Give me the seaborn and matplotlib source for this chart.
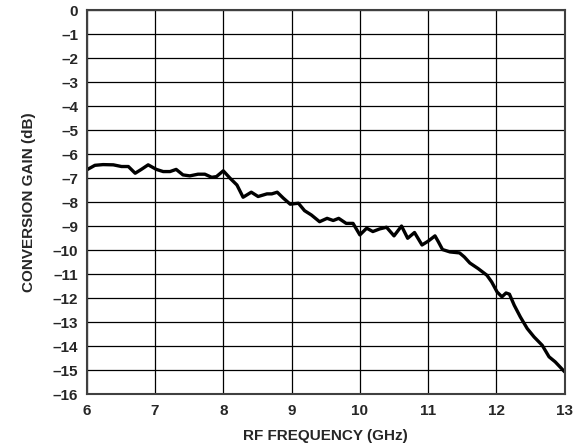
import numpy as np
import pandas as pd
import matplotlib
matplotlib.use("Agg")
import matplotlib.pyplot as plt
import seaborn as sns

# RF frequency (GHz) and conversion gain (dB)
freq_ghz = [6.00, 6.12, 6.24, 6.39, 6.51, 6.61, 6.71, 6.80, 6.90, 7.02,
            7.12, 7.22, 7.31, 7.41, 7.51, 7.63, 7.73, 7.83, 7.90, 8.00,
            8.10, 8.20, 8.29, 8.41, 8.51, 8.64, 8.71, 8.79, 8.88, 8.98,
            9.10, 9.19, 9.29, 9.41, 9.52, 9.61, 9.69, 9.80, 9.90, 10.00,
            10.10, 10.19, 10.29, 10.39, 10.50, 10.61, 10.70, 10.80, 10.91, 11.00,
            11.10, 11.15, 11.21, 11.32, 11.46, 11.53, 11.61, 11.73, 11.86, 11.93,
            12.01, 12.08, 12.14, 12.19, 12.26, 12.35, 12.45, 12.55, 12.67, 12.77,
            12.86, 13.00]
gain_db = [-6.65, -6.46, -6.43, -6.44, -6.51, -6.51, -6.79, -6.63, -6.44, -6.63,
           -6.72, -6.72, -6.63, -6.86, -6.90, -6.83, -6.83, -6.96, -6.93, -6.69,
           -7.00, -7.28, -7.79, -7.58, -7.76, -7.65, -7.65, -7.58, -7.83, -8.08,
           -8.04, -8.35, -8.53, -8.81, -8.67, -8.76, -8.67, -8.88, -8.88, -9.36,
           -9.08, -9.22, -9.11, -9.04, -9.40, -8.99, -9.50, -9.26, -9.78, -9.62,
           -9.40, -9.65, -9.97, -10.07, -10.11, -10.28, -10.53, -10.76, -11.04, -11.32,
           -11.74, -11.94, -11.78, -11.83, -12.29, -12.78, -13.26, -13.61, -13.96, -14.44,
           -14.65, -15.07]

x_ticks = [6, 7, 8, 9, 10, 11, 12, 13]
y_ticks = list(range(-16, 1))

df = pd.DataFrame({"freq": freq_ghz, "gain": gain_db})

sns.set_style("white")
plt.rcParams["font.family"] = ["Liberation Sans", "DejaVu Sans"]
plt.rcParams["font.weight"] = "bold"

fig = plt.figure(figsize=(5.83, 4.48), dpi=100)
ax = fig.add_axes([0.1487, 0.12, 0.82, 0.857])

sns.lineplot(data=df, x="freq", y="gain", ax=ax, color="black", linewidth=2.4)

ax.set_xlim(6, 13)
ax.set_ylim(-16, 0)
ax.set_xticks(x_ticks)
ax.set_yticks(y_ticks)
ax.set_xticklabels([str(t) for t in x_ticks], fontsize=11, fontweight="bold")
ax.set_yticklabels([str(t).replace("-", "\u2013") for t in y_ticks],
                   fontsize=11, fontweight="bold")
ax.tick_params(axis="x", length=0, pad=7)
ax.tick_params(axis="y", length=0, pad=6)
ax.grid(True, color="black", linewidth=0.9)

for s in ax.spines.values():
    s.set_color("#404040")
    s.set_linewidth(1.5)

ax.set_xlabel("RF FREQUENCY (GHz)", fontsize=11, fontweight="bold", labelpad=8)
ax.set_ylabel("CONVERSION GAIN (dB)", fontsize=11, fontweight="bold", labelpad=12)

fig.savefig("out.png", dpi=100)
